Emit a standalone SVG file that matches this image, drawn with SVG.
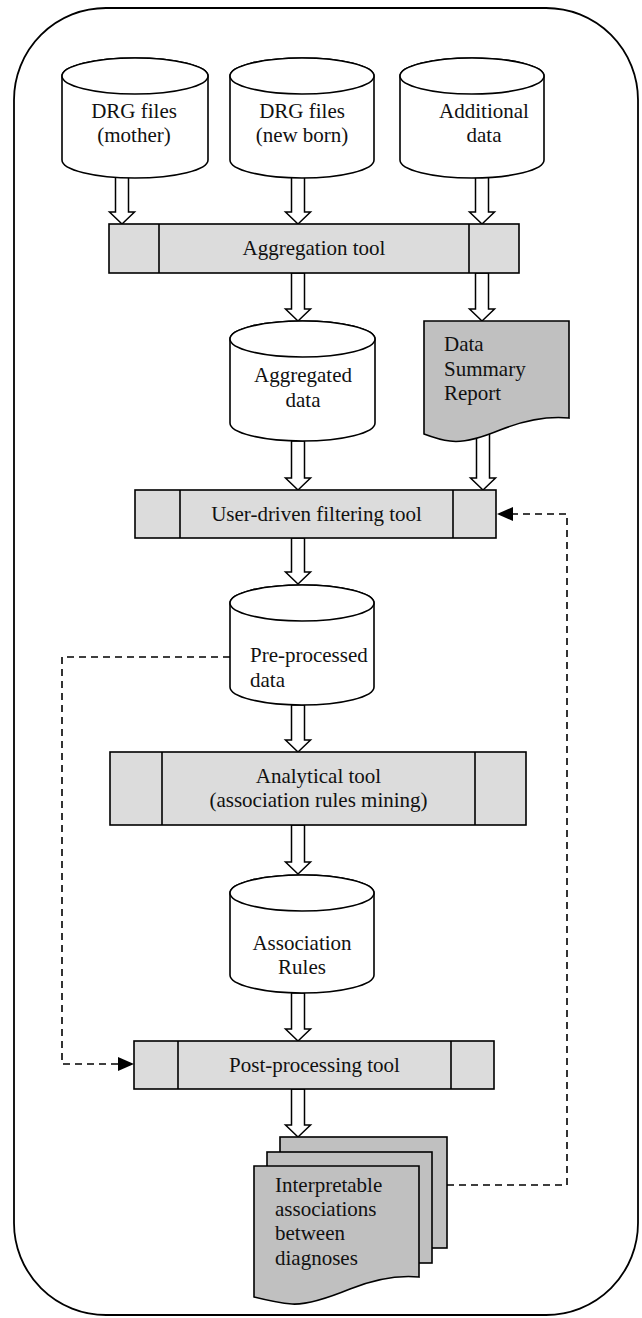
<svg xmlns="http://www.w3.org/2000/svg" width="642" height="1318" viewBox="0 0 642 1318">
<style>
text{font-family:"Liberation Serif","Times New Roman",serif;font-size:21px;fill:#111}
.c{text-anchor:middle}
.cyl{fill:#fff;stroke:#000;stroke-width:1.6}
.box{fill:#dcdcdc;stroke:#000;stroke-width:1.6}
.doc{fill:#c0c0c0;stroke:#000;stroke-width:1.6}
.arr{fill:#fff;stroke:#000;stroke-width:1.5;stroke-linejoin:miter}
.dash{fill:none;stroke:#000;stroke-width:1.6;stroke-dasharray:7 5}
</style>
<defs>
<marker id="ah" markerUnits="userSpaceOnUse" markerWidth="16" markerHeight="14" refX="16" refY="7" orient="auto">
<path d="M0,0 L16,7 L0,14 Z" fill="#000"/>
</marker>
</defs>
<rect x="14" y="8" width="624" height="1307" rx="92" ry="92" fill="none" stroke="#000" stroke-width="1.8"/>
<g id="connectors">
<polygon class="arr" points="115.5,176 128.5,176 128.5,212 134.5,212 122,224 109.5,212 115.5,212"/>
<polygon class="arr" points="291.5,176 304.5,176 304.5,212 310.5,212 298,224 285.5,212 291.5,212"/>
<polygon class="arr" points="475.5,176 488.5,176 488.5,212 494.5,212 482,224 469.5,212 475.5,212"/>
<polygon class="arr" points="291.5,273 304.5,273 304.5,309 310.5,309 298,321 285.5,309 291.5,309"/>
<polygon class="arr" points="475.5,273 488.5,273 488.5,309 494.5,309 482,321 469.5,309 475.5,309"/>
<polygon class="arr" points="291.5,441 304.5,441 304.5,478 310.5,478 298,490 285.5,478 291.5,478"/>
<polygon class="arr" points="476.5,430 489.5,430 489.5,478 495.5,478 483,490 470.5,478 476.5,478"/>
<polygon class="arr" points="291.5,538 304.5,538 304.5,572 310.5,572 298,584 285.5,572 291.5,572"/>
<polygon class="arr" points="291.5,705 304.5,705 304.5,740 310.5,740 298,752 285.5,740 291.5,740"/>
<polygon class="arr" points="291.5,825 304.5,825 304.5,862 310.5,862 298,874 285.5,862 291.5,862"/>
<polygon class="arr" points="291.5,993 304.5,993 304.5,1029 310.5,1029 298,1041 285.5,1029 291.5,1029"/>
<polygon class="arr" points="291.5,1089 304.5,1089 304.5,1125 310.5,1125 298,1137 285.5,1125 291.5,1125"/>
<path class="dash" d="M447,1185 L567,1185 L567,514 L497,514" marker-end="url(#ah)"/>
<path class="dash" d="M230,657 L62,657 L62,1064 L134,1064" marker-end="url(#ah)"/>
</g>
<g id="drg-mother">
<path class="cyl" d="M62,76 L62,160 A73,18 0 0 0 208,160 L208,76 A73,18 0 0 0 62,76 Z"/>
<ellipse class="cyl" cx="135" cy="76" rx="73" ry="18"/>
<text class="c" x="134" y="118">DRG files</text>
<text class="c" x="134" y="142">(mother)</text>
</g>
<g id="drg-newborn">
<path class="cyl" d="M230,76 L230,160 A72,18 0 0 0 374,160 L374,76 A72,18 0 0 0 230,76 Z"/>
<ellipse class="cyl" cx="302" cy="76" rx="72" ry="18"/>
<text class="c" x="302" y="118">DRG files</text>
<text class="c" x="302" y="142">(new born)</text>
</g>
<g id="additional-data">
<path class="cyl" d="M400,76 L400,160 A72,18 0 0 0 544,160 L544,76 A72,18 0 0 0 400,76 Z"/>
<ellipse class="cyl" cx="472" cy="76" rx="72" ry="18"/>
<text class="c" x="484" y="118">Additional</text>
<text class="c" x="484" y="142">data</text>
</g>
<g id="aggregation-tool">
<rect class="box" x="109" y="224" width="410" height="49"/>
<line class="box" x1="159" y1="224" x2="159" y2="273"/>
<line class="box" x1="469" y1="224" x2="469" y2="273"/>
<text class="c" x="314" y="255">Aggregation tool</text>
</g>
<g id="aggregated-data">
<path class="cyl" d="M230,339 L230,423 A72.5,18 0 0 0 375,423 L375,339 A72.5,18 0 0 0 230,339 Z"/>
<ellipse class="cyl" cx="302.5" cy="339" rx="72.5" ry="18"/>
<text class="c" x="303" y="382">Aggregated</text>
<text class="c" x="303" y="407">data</text>
</g>
<g id="data-summary-report">
<path class="doc" d="M424,321 L569,321 L569,418 C548,416 525,420 500,430 C478,439 462,443 450,441 C440,440 432,437 424,434 Z"/>
<text x="444" y="351">Data</text>
<text x="444" y="376">Summary</text>
<text x="444" y="400">Report</text>
</g>
<g id="filtering-tool">
<rect class="box" x="135" y="490" width="361" height="48"/>
<line class="box" x1="180" y1="490" x2="180" y2="538"/>
<line class="box" x1="453" y1="490" x2="453" y2="538"/>
<text class="c" x="316.5" y="521">User-driven filtering tool</text>
</g>
<g id="pre-processed-data">
<path class="cyl" d="M230,603 L230,687 A72,18 0 0 0 374,687 L374,603 A72,18 0 0 0 230,603 Z"/>
<ellipse class="cyl" cx="302" cy="603" rx="72" ry="18"/>
<text x="250" y="662">Pre-processed</text>
<text x="250" y="687">data</text>
</g>
<g id="analytical-tool">
<rect class="box" x="110" y="752" width="416" height="73"/>
<line class="box" x1="162" y1="752" x2="162" y2="825"/>
<line class="box" x1="475" y1="752" x2="475" y2="825"/>
<text class="c" x="318.5" y="783">Analytical tool</text>
<text class="c" x="318.5" y="807">(association rules mining)</text>
</g>
<g id="association-rules">
<path class="cyl" d="M230,893 L230,975 A72,18 0 0 0 374,975 L374,893 A72,18 0 0 0 230,893 Z"/>
<ellipse class="cyl" cx="302" cy="893" rx="72" ry="18"/>
<text class="c" x="302" y="950">Association</text>
<text class="c" x="302" y="974">Rules</text>
</g>
<g id="post-processing-tool">
<rect class="box" x="134" y="1041" width="360" height="48"/>
<line class="box" x1="178" y1="1041" x2="178" y2="1089"/>
<line class="box" x1="451" y1="1041" x2="451" y2="1089"/>
<text class="c" x="314.5" y="1072">Post-processing tool</text>
</g>
<g id="interpretable-associations">
<rect class="doc" x="280" y="1137" width="167" height="111"/>
<rect class="doc" x="267" y="1152" width="165" height="111"/>
<path class="doc" d="M254,1166 L419,1166 L419,1277 C398,1275 375,1279 350,1289 C328,1298 308,1305 292,1304 C278,1303 266,1300 254,1297 Z"/>
<text x="275" y="1192">Interpretable</text>
<text x="275" y="1216">associations</text>
<text x="275" y="1240">between</text>
<text x="275" y="1265">diagnoses</text>
</g>
</svg>
